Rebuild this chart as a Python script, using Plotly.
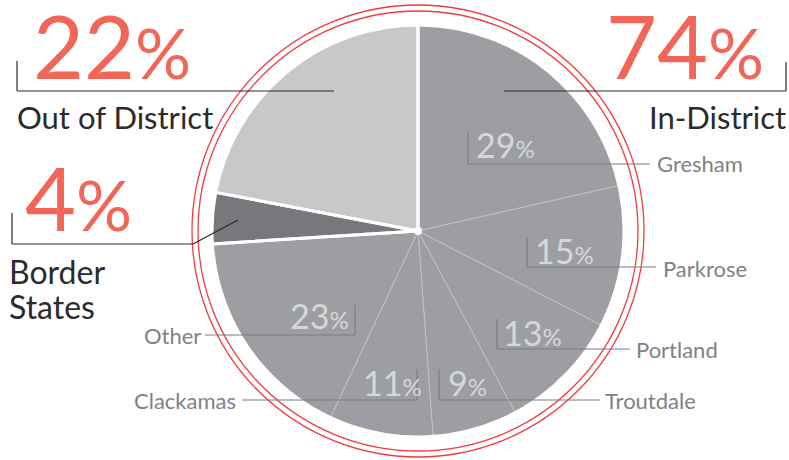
import plotly.graph_objects as go

W, H = 789, 460

# shares of the whole
groups = ["In-District", "Border States", "Out of District"]
group_pct = [74, 4, 22]
group_colors = ["#9d9ea1", "#77787b", "#c7c8ca"]

# split of the in-district share
district_names = ["Gresham", "Parkrose", "Portland", "Troutdale", "Clackamas", "Other"]
district_pct = [29, 15, 13, 9, 11, 23]

RED = "#f2665a"
DARK = "#2b2a2c"
GREY_TXT = "#808184"
LIGHT_TXT = "#d6d7d9"
FONT = "Lato"

# pie placement (pixels)
CX, CY, R = 418, 231, 206


def px(x, y):
    return x / W, 1 - y / H


def dom():
    return {"x": [(CX - R) / W, (CX + R) / W], "y": [1 - (CY + R) / H, 1 - (CY - R) / H]}


in_share = group_pct[0]
slice_values = [in_share * p / 100 for p in district_pct] + group_pct[1:]
slice_colors = [group_colors[0]] * len(district_pct) + group_colors[1:]

fig = go.Figure()
fig.add_trace(
    go.Pie(
        values=slice_values,
        labels=district_names + groups[1:],
        sort=False,
        direction="clockwise",
        textinfo="none",
        hoverinfo="skip",
        marker={"colors": slice_colors, "line": {"color": "#c4c5c7", "width": 0.8}},
        domain=dom(),
        showlegend=False,
    )
)
# white separators between the three main groups
fig.add_trace(
    go.Pie(
        values=group_pct,
        labels=groups,
        sort=False,
        direction="clockwise",
        textinfo="none",
        hoverinfo="skip",
        marker={"colors": ["rgba(0,0,0,0)"] * 3, "line": {"color": "white", "width": 3}},
        domain=dom(),
        showlegend=False,
    )
)

shapes = []


def circle(r, color, width, fill=None):
    x0, y0 = px(CX - r, CY + r)
    x1, y1 = px(CX + r, CY - r)
    shapes.append(dict(type="circle", xref="paper", yref="paper", x0=x0, y0=y0, x1=x1, y1=y1,
                       line={"color": color, "width": width}, fillcolor=fill))


circle(220, "#ee3b41", 1.3)
circle(226, "#ee3b41", 1.3)
circle(4, "white", 0, "white")


def polyline(pts, color, width):
    for (xa, ya), (xb, yb) in zip(pts[:-1], pts[1:]):
        x0, y0 = px(xa, ya)
        x1, y1 = px(xb, yb)
        shapes.append(dict(type="line", xref="paper", yref="paper", x0=x0, y0=y0, x1=x1, y1=y1,
                           line={"color": color, "width": width}))


# group leaders
polyline([(17, 61), (17, 91), (334, 91)], DARK, 1.2)
polyline([(786, 62), (786, 91), (504, 91)], DARK, 1.2)
polyline([(12, 213), (12, 244), (193, 244), (238, 220)], DARK, 1.2)

# district leaders
leaders = [
    [(468, 133), (468, 164), (650, 164)],
    [(527, 237), (527, 267), (656, 267)],
    [(497, 319), (497, 349), (630, 349)],
    [(439, 369), (439, 400), (600, 400)],
    [(417, 369), (417, 400), (242, 400)],
    [(355, 305), (355, 335), (205, 335)],
]
for pts in leaders:
    polyline(pts, "#7c7d80", 1.2)

annotations = []


def label(text, x, y, size, color, anchor="left"):
    xp, yp = px(x, y)
    annotations.append(dict(text=text, x=xp, y=yp, xref="paper", yref="paper",
                            xanchor=anchor, yanchor="middle", showarrow=False,
                            font={"family": FONT, "size": size, "color": color}))


def pct(v, small):
    return f"{v}<span style='font-size:{small}px'>%</span>"


label(pct(group_pct[2], 70), 31, 45, 88, RED)
label(pct(group_pct[0], 70), 766, 45, 88, RED, "right")
label(pct(group_pct[1], 70), 23, 197, 88, RED)
label(groups[2], 15, 117, 31, DARK)
label(groups[0], 788, 117, 31, DARK, "right")
label("Border", 7, 271, 32, DARK)
label("States", 7, 306, 32, DARK)

pct_pos = [(474, 144, "left"), (533, 250, "left"), (501, 332, "left"),
           (446, 382, "left"), (361, 382, "left"), (288, 315, "left")]
name_pos = [(655, 163, "left"), (661, 268, "left"), (634, 349, "left"),
            (603, 400, "left"), (238, 400, "right"), (203, 335, "right")]
for v, name, (x, y, a), (nx, ny, na) in zip(district_pct, district_names, pct_pos, name_pos):
    label(pct(v, 24), x, y, 34, LIGHT_TXT, a)
    label(name, nx, ny, 22, GREY_TXT, na)

fig.update_layout(
    width=W,
    height=H,
    margin={"l": 0, "r": 0, "t": 0, "b": 0},
    paper_bgcolor="white",
    plot_bgcolor="white",
    shapes=shapes,
    annotations=annotations,
    showlegend=False,
)
fig.write_html(
    "out.html",
    config={"displayModeBar": False},
    post_script="document.body.style.margin='0';",
)
